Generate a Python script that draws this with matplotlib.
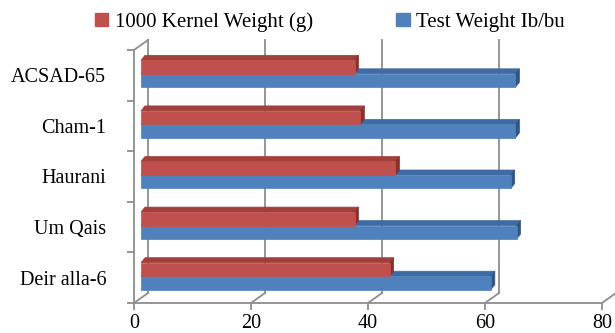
import matplotlib
matplotlib.use("Agg")
from matplotlib import pyplot as plt
from matplotlib.patches import Polygon, Patch

plt.rcParams['font.family'] = ['Liberation Serif', 'DejaVu Serif']

varieties = ["ACSAD-65", "Cham-1", "Haurani", "Um Qais", "Deir alla-6"]
kernel_weight = [36.5, 37.5, 43.5, 36.5, 42.5]   # 1000 kernel weight (g)
test_weight = [64.0, 64.0, 63.2, 64.2, 59.8]     # test weight lb/bu
x_ticks = [0, 20, 40, 60, 80]

RED, RED_TOP, RED_SIDE = "#C0504D", "#A23E3B", "#8C302D"
BLUE, BLUE_TOP, BLUE_SIDE = "#4F81BD", "#3D6BA3", "#2E5687"
GRID = "#8E8E8E"

W, H = 615, 333
fig = plt.figure(figsize=(W / 100, H / 100), dpi=100)
# front plane of the 3-d box
ax = fig.add_axes([134 / W, 30 / H, 468 / W, 253 / H])
ax.set_xlim(0, 80)
ax.set_ylim(4.5, -0.5)

px_x = 468 / 80.0   # pixels per value unit
px_y = 253 / 5.0    # pixels per category
DX, DY = 14 / px_x, 10 / px_y        # depth of the box
BX, BY = 7 / px_x, 5 / px_y          # bars sit halfway back
SX, SY = 4 / px_x, 5 / px_y          # depth of each bar
bh = 13.5 / px_y

# back wall + floor lines
for xv in x_ticks:
    ax.plot([xv + DX, xv + DX], [4.5 - DY, -0.5 - DY], color=GRID, lw=1.3,
            clip_on=False, zorder=1)
    ax.plot([xv, xv + DX], [4.5, 4.5 - DY], color=GRID, lw=1.3,
            clip_on=False, zorder=1)
ax.plot([0, DX], [-0.5, -0.5 - DY], color=GRID, lw=1.3, clip_on=False, zorder=1)


def bar3d(yc, val, front, top, side, z):
    y0 = yc - bh / 2 - BY
    y1 = yc + bh / 2 - BY
    x1 = BX + val
    ax.add_patch(Polygon([(BX, y0), (x1, y0), (x1 + SX, y0 - SY), (BX + SX, y0 - SY)],
                         closed=True, facecolor=top, edgecolor=top, lw=0.5, zorder=z))
    ax.add_patch(Polygon([(x1, y0), (x1 + SX, y0 - SY), (x1 + SX, y1 - SY), (x1, y1)],
                         closed=True, facecolor=side, edgecolor=side, lw=0.5, zorder=z))
    ax.barh(yc - BY, val, height=bh, left=BX, color=front, edgecolor=front,
            lw=0.5, zorder=z + 0.5)


shift = 3.5 / px_y
for i, v in enumerate(varieties):
    bar3d(i + shift + bh / 2, test_weight[i], BLUE, BLUE_TOP, BLUE_SIDE, 2)
for i, v in enumerate(varieties):
    bar3d(i + shift - bh / 2, kernel_weight[i], RED, RED_TOP, RED_SIDE, 3)

for s in ["top", "right"]:
    ax.spines[s].set_visible(False)
for s in ["left", "bottom"]:
    ax.spines[s].set_color(GRID)
    ax.spines[s].set_linewidth(1.3)

ax.set_xticks(x_ticks)
ax.set_xticklabels([str(t) for t in x_ticks])
ax.tick_params(axis="x", length=5, width=1.3, color=GRID, pad=3, labelsize=14.5)
ax.set_yticks(range(len(varieties)))
ax.set_yticklabels(varieties)
ax.set_yticks([i - 0.5 for i in range(len(varieties) + 1)], minor=True)
ax.tick_params(axis="y", which="major", length=0, pad=20, labelsize=14.5)
ax.tick_params(axis="y", which="minor", length=5, width=1.3, color=GRID)

handles = [Patch(color=RED, label="1000 Kernel Weight (g)"),
           Patch(color=BLUE, label="Test Weight Ib/bu")]
fig.legend(handles=handles, loc="center", bbox_to_anchor=(0.536, 0.934), ncol=2,
           frameon=False, fontsize=15, handlelength=0.65, handleheight=0.65,
           handletextpad=0.3, columnspacing=4.0)

fig.savefig("out.png", dpi=100)
